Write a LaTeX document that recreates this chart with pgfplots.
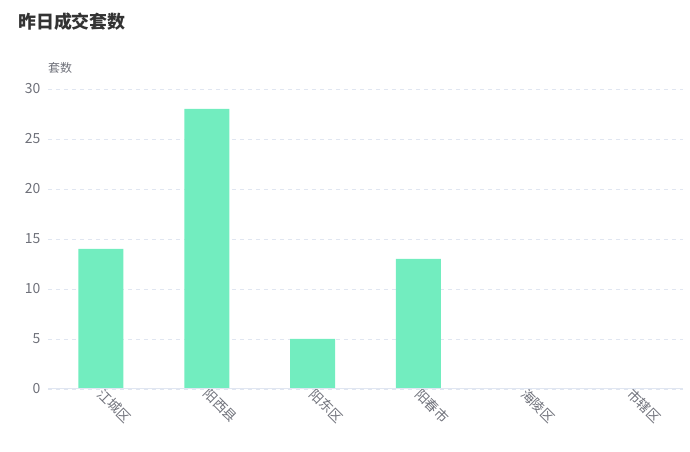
\documentclass[border=0pt]{standalone}
\usepackage{fontspec}
\setmainfont{Noto Sans CJK SC}
\usepackage{pgfplots}
\pgfplotsset{compat=1.18}

\definecolor{barcol}{HTML}{72EDBF}
\definecolor{labcol}{HTML}{6E7079}
\definecolor{gridcol}{HTML}{E0E6F1}
\definecolor{titlecol}{HTML}{333333}

\begin{document}
\begin{tikzpicture}[x=1bp,y=1bp]
  % fixed canvas
  \path (0,0) rectangle (690,452);
  \node[anchor=west, text=titlecol, font=\fontsize{18}{18}\selectfont\bfseries, inner sep=0] at (18,430) {昨日成交套数};
  \node[anchor=west, text=labcol, font=\fontsize{12}{12}\selectfont, inner sep=0] at (48,384) {套数};
  \begin{axis}[
    at={(48bp,63bp)}, anchor=south west,
    scale only axis, width=635bp, height=300bp,
    xmin=-0.5, xmax=5.5, ymin=0, ymax=30,
    ytick={0,5,...,30},
    xtick=data,
    xticklabels={江城区,阳西县,阳东区,阳春市,海陵区,市辖区},
    /pgf/number format/assume math mode=true,
    major tick length=0pt,
    axis lines=left,
    axis line style={-},
    y axis line style={draw=none},
    x axis line style={draw=none},
    ymajorgrids, grid style={gridcol, dash pattern=on 4bp off 4bp, line width=0.7pt},
    yticklabel style={text=labcol, font=\fontsize{14}{14}\selectfont, xshift=-4bp},
    xticklabel style={text=labcol, font=\fontsize{13.5}{13.5}\selectfont, rotate=-45, anchor=west, xshift=-2bp, yshift=-2bp},
    ybar, bar width=45bp,
  ]
    \addplot[draw=none, fill=barcol] coordinates {(0,14) (1,28) (2,5) (3,13) (4,0) (5,0)};
    % category axis line, drawn over the bars' base
    \draw[gridcol, line width=1pt] (axis cs:-0.5,0) -- (axis cs:5.5,0);
  \end{axis}
\end{tikzpicture}
\end{document}
